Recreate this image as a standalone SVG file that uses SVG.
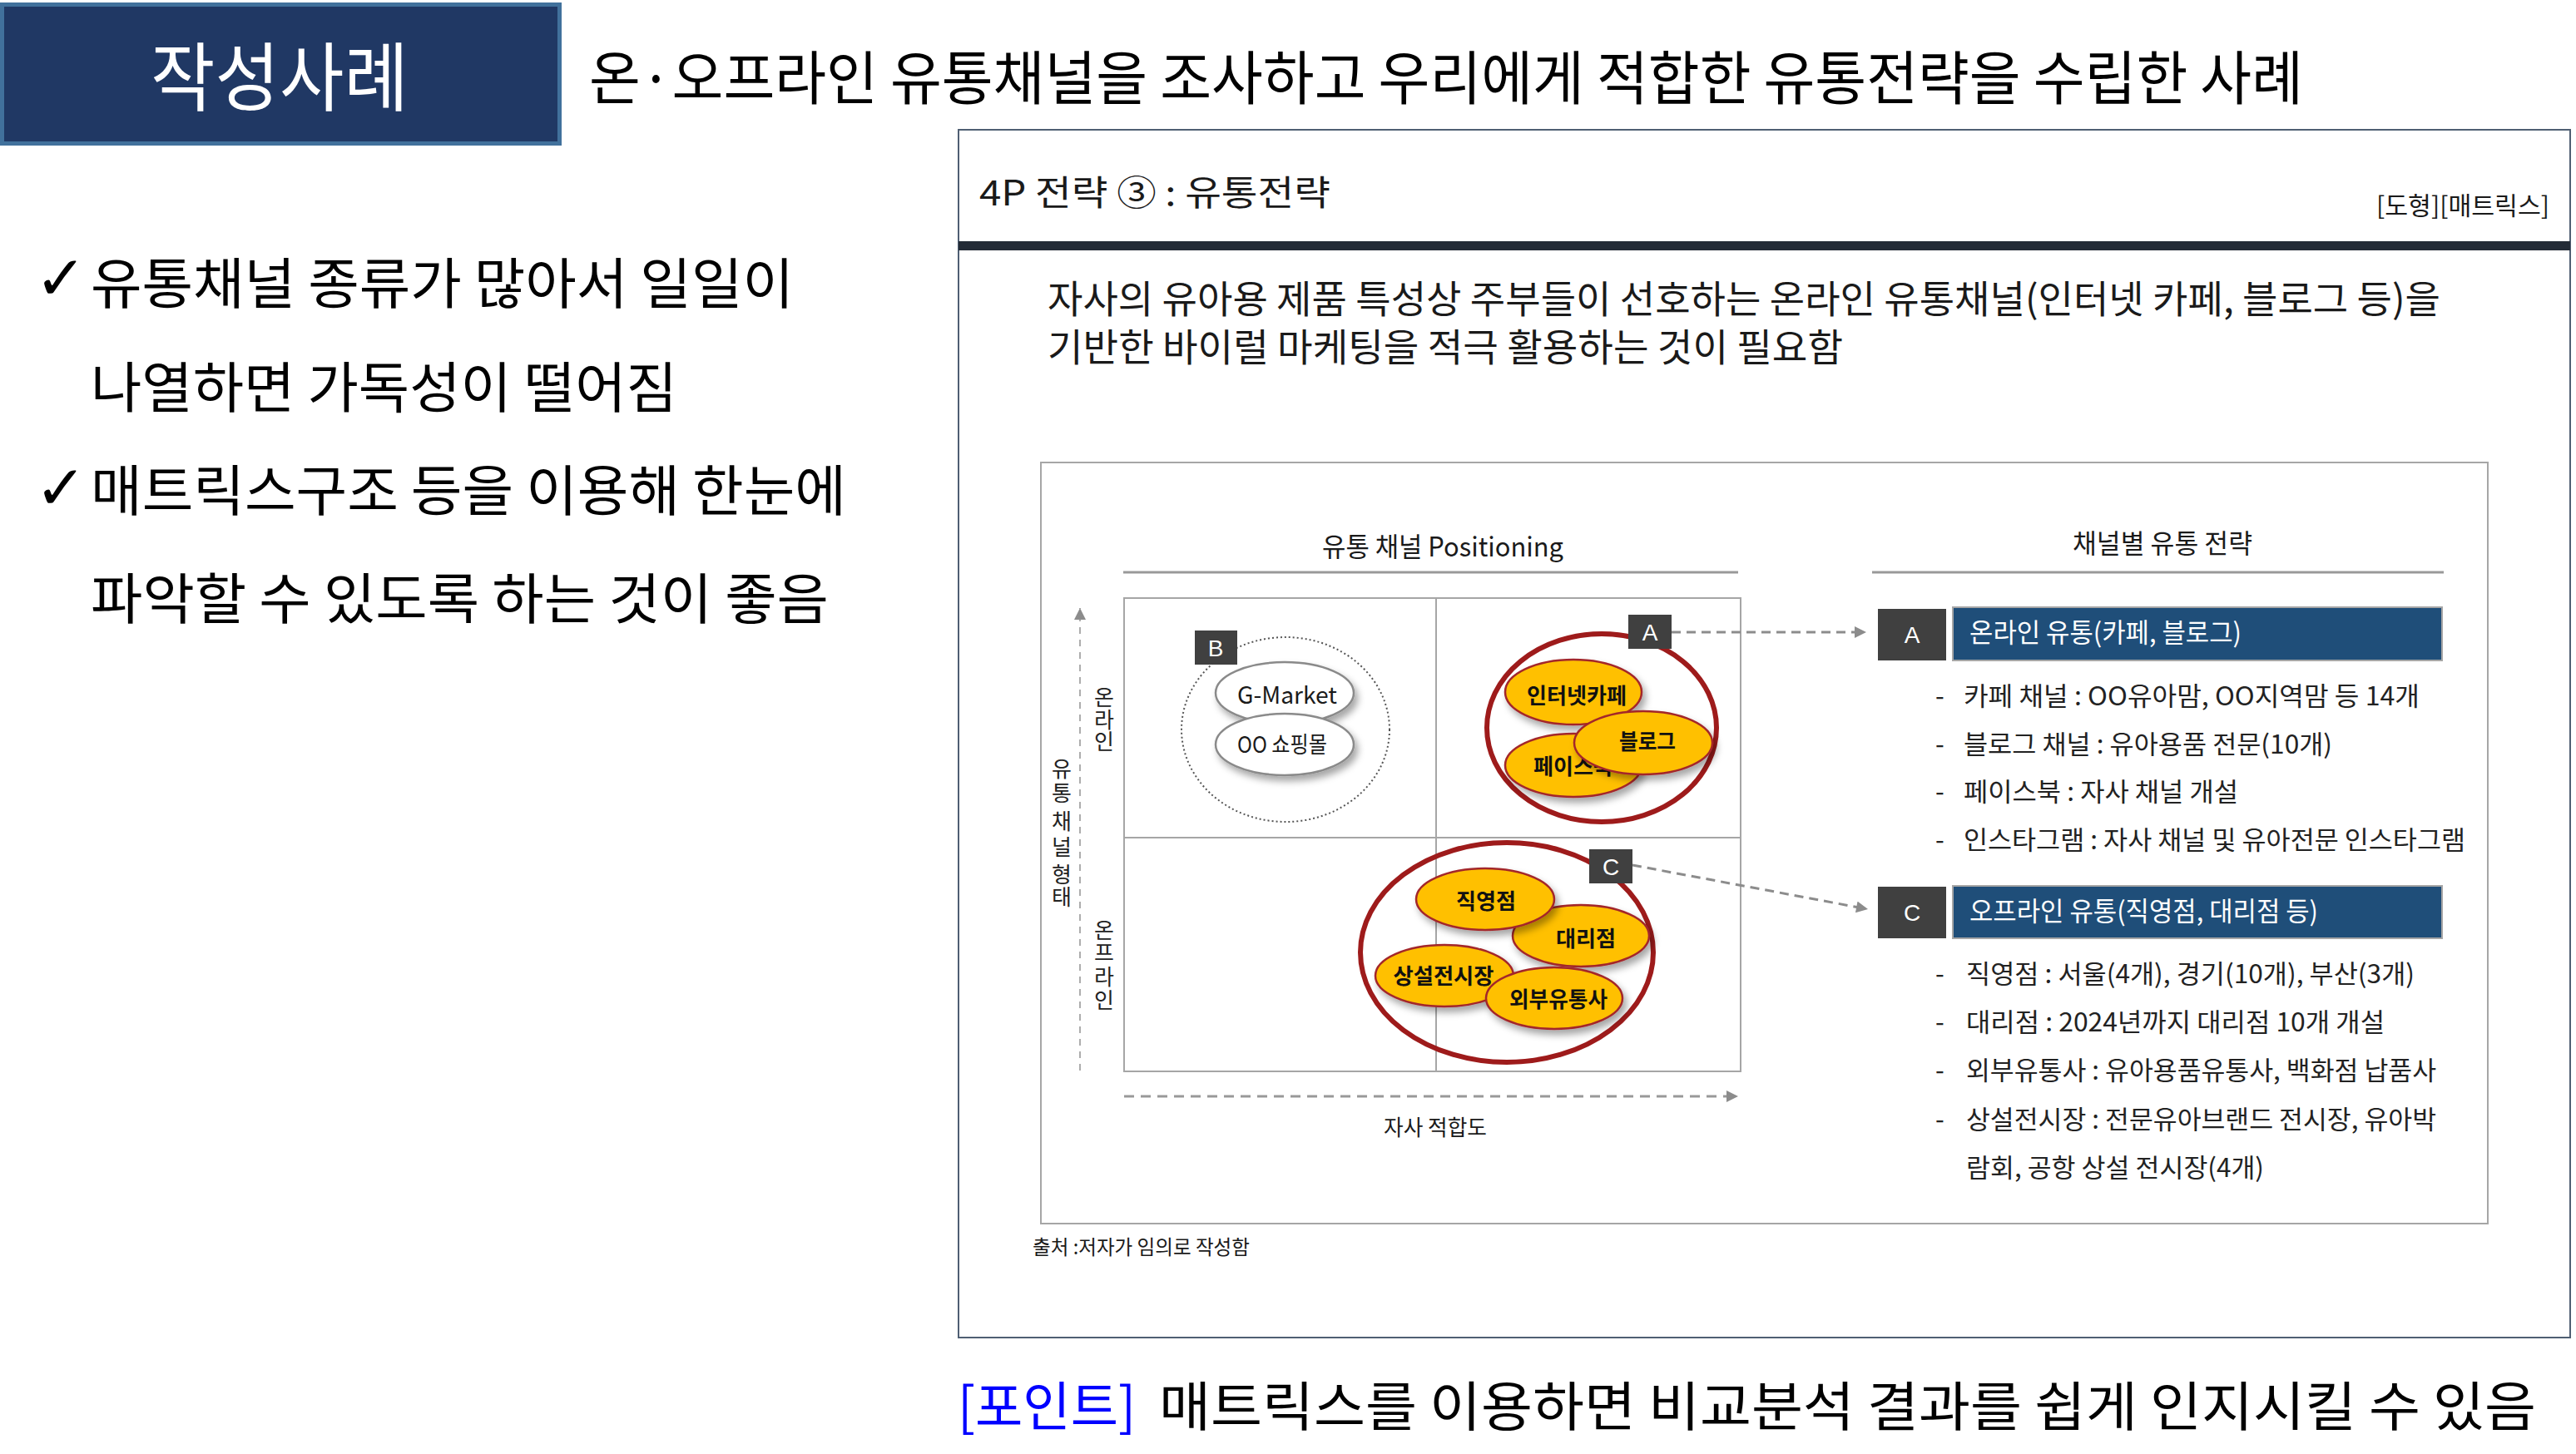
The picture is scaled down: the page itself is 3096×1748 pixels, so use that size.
<svg xmlns="http://www.w3.org/2000/svg" width="3096" height="1748" viewBox="0 0 3096 1748">
<defs>
<style>
text{font-family:"Noto Sans CJK KR","Noto Sans",sans-serif;fill:#1a1a1a}
.k{fill:#000}
.wt{fill:#fff}
.blue{fill:#0000ff}
.chk{font-family:"DejaVu Sans",sans-serif;font-size:74px;font-weight:700;fill:#000}
.lbl{font-family:"Liberation Sans","Noto Sans CJK KR",sans-serif;fill:#fff;font-size:28px;text-anchor:middle}
.bx{fill:#404040}
.bar{fill:#1f4e79;stroke:#a6a6a6;stroke-width:2}
.bul{font-size:31px;fill:#222}
.yel{fill:#ffc000;stroke:#a3282a;stroke-width:2.5;filter:url(#sh)}
.yt{font-size:26px;font-weight:700;text-anchor:middle;fill:#111}
.wel{fill:#fff;stroke:#8a8a8a;stroke-width:2.5;filter:url(#sh)}
.red{fill:none;stroke:#9e1b1b;stroke-width:6}
.grid{fill:none;stroke:#a6a6a6;stroke-width:2}
.conn{fill:none;stroke:#8c8c8c;stroke-width:3;stroke-dasharray:11 7}
.ax{font-size:26px;text-anchor:middle;fill:#222}
</style>
<filter id="sh" x="-20%" y="-25%" width="150%" height="170%">
<feDropShadow dx="4" dy="6" stdDeviation="4" flood-color="#000" flood-opacity="0.35"/>
</filter>
<marker id="arr" viewBox="0 0 10 10" refX="10" refY="5" markerUnits="userSpaceOnUse" markerWidth="15" markerHeight="14" orient="auto">
<path d="M0,0 L10,5 L0,10 z" fill="#8c8c8c"/>
</marker>
</defs>
<rect width="3096" height="1748" fill="#fff"/>

<g id="title-box">
<rect x="2.5" y="5.5" width="670" height="167" fill="#203864" stroke="#41719c" stroke-width="5"/>
<text x="181" y="126" font-size="90" class="wt" textLength="310" lengthAdjust="spacingAndGlyphs">작성사례</text>
</g>
<g id="headline">
<text x="708" y="120" font-size="70" class="k" textLength="2060" lengthAdjust="spacingAndGlyphs">온·오프라인 유통채널을 조사하고 우리에게 적합한 유통전략을 수립한 사례</text>
</g>

<g id="left-notes">
<text x="42" y="360" class="chk">✓</text>
<text x="109" y="365" font-size="66" class="k" textLength="845" lengthAdjust="spacingAndGlyphs">유통채널 종류가 많아서 일일이</text>
<text x="109" y="490" font-size="66" class="k" textLength="705" lengthAdjust="spacingAndGlyphs">나열하면 가독성이 떨어짐</text>
<text x="42" y="612" class="chk">✓</text>
<text x="109" y="614" font-size="66" class="k" textLength="908" lengthAdjust="spacingAndGlyphs">매트릭스구조 등을 이용해 한눈에</text>
<text x="109" y="744" font-size="66" class="k" textLength="887" lengthAdjust="spacingAndGlyphs">파악할 수 있도록 하는 것이 좋음</text>
</g>

<g id="panel">
<rect x="1152" y="156" width="1937" height="1452" fill="#fff" stroke="#4f5f73" stroke-width="2"/>
<rect x="1152" y="290" width="1937" height="11" fill="#232b36"/>
<text x="1177" y="247" font-size="42" textLength="422" lengthAdjust="spacingAndGlyphs">4P 전략 ③ : 유통전략</text>
<text x="2856" y="258" font-size="30" textLength="208" lengthAdjust="spacingAndGlyphs">[도형][매트릭스]</text>
<text x="1259" y="376" font-size="46" textLength="1674" lengthAdjust="spacingAndGlyphs">자사의 유아용 제품 특성상 주부들이 선호하는 온라인 유통채널(인터넷 카페, 블로그 등)을</text>
<text x="1259" y="434" font-size="46" textLength="956" lengthAdjust="spacingAndGlyphs">기반한 바이럴 마케팅을 적극 활용하는 것이 필요함</text>
<rect x="1251" y="556" width="1739" height="915" fill="none" stroke="#a6a6a6" stroke-width="2"/>
<text x="1241" y="1508" font-size="24" textLength="261" lengthAdjust="spacingAndGlyphs">출처 :저자가 임의로 작성함</text>
</g>

<g id="matrix">
<text x="1589" y="669" font-size="32" textLength="290" lengthAdjust="spacingAndGlyphs">유통 채널 Positioning</text>
<line x1="1350" y1="688" x2="2089" y2="688" stroke="#999" stroke-width="3"/>
<rect class="grid" x="1351" y="719" width="741" height="569"/>
<line class="grid" x1="1726" y1="719" x2="1726" y2="1288"/>
<line class="grid" x1="1351" y1="1007" x2="2092" y2="1007"/>
<text class="ax" x="1327 1327 1327" y="848 875 901">온라인</text>
<text class="ax" x="1327 1327 1327 1327" y="1128 1155 1184 1212">온프라인</text>
<text class="ax" x="1276 1276 1276 1276 1276 1276 1276 1276" y="934 963 963 997 1028 1028 1061 1088">유통 채널 형태</text>
<text x="1663" y="1365" font-size="26" textLength="124" lengthAdjust="spacingAndGlyphs">자사 적합도</text>
</g>

<g id="axes">
<line x1="1298" y1="1287" x2="1298" y2="731" stroke="#999" stroke-width="1.6" stroke-dasharray="8 7" marker-end="url(#arr)"/>
<line x1="1351" y1="1318" x2="2089" y2="1318" stroke="#999" stroke-width="3" stroke-dasharray="12 8" marker-end="url(#arr)"/>
</g>

<g id="node-B">
<ellipse cx="1545" cy="877" rx="125" ry="111" fill="none" stroke="#555" stroke-width="2" stroke-dasharray="2 3"/>
<ellipse class="wel" cx="1544" cy="833" rx="83" ry="37"/>
<text x="1547" y="846" font-size="28" text-anchor="middle" textLength="120" lengthAdjust="spacingAndGlyphs">G-Market</text>
<ellipse class="wel" cx="1544" cy="895" rx="83" ry="37"/>
<text x="1541" y="905" font-size="27" text-anchor="middle" textLength="108" lengthAdjust="spacingAndGlyphs">OO 쇼핑몰</text>
<rect class="bx" x="1436" y="758" width="51" height="41"/>
<text class="lbl" x="1461" y="789">B</text>
</g>

<g id="node-A">
<ellipse class="red" cx="1925" cy="875" rx="138" ry="113"/>
<ellipse class="yel" cx="1891" cy="832" rx="82" ry="39"/>
<text class="yt" x="1895" y="846" textLength="120" lengthAdjust="spacingAndGlyphs">인터넷카페</text>
<ellipse class="yel" cx="1891" cy="920" rx="82" ry="38"/>
<text class="yt" x="1891" y="931" textLength="96" lengthAdjust="spacingAndGlyphs">페이스북</text>
<ellipse class="yel" cx="1975" cy="893" rx="83" ry="38"/>
<text class="yt" x="1980" y="901" textLength="68" lengthAdjust="spacingAndGlyphs">블로그</text>
<rect class="bx" x="1957" y="739" width="52" height="41"/>
<text class="lbl" x="1983" y="770">A</text>
</g>

<g id="node-C">
<ellipse class="red" cx="1811" cy="1145" rx="176" ry="132"/>
<ellipse class="yel" cx="1900" cy="1125" rx="82" ry="37"/>
<text class="yt" x="1906" y="1138" textLength="72" lengthAdjust="spacingAndGlyphs">대리점</text>
<ellipse class="yel" cx="1785" cy="1081" rx="83" ry="37"/>
<text class="yt" x="1786" y="1093" textLength="72" lengthAdjust="spacingAndGlyphs">직영점</text>
<ellipse class="yel" cx="1736" cy="1173" rx="83" ry="37"/>
<text class="yt" x="1735" y="1183" textLength="121" lengthAdjust="spacingAndGlyphs">상설전시장</text>
<ellipse class="yel" cx="1868" cy="1200" rx="82" ry="37"/>
<text class="yt" x="1873" y="1211" textLength="118" lengthAdjust="spacingAndGlyphs">외부유통사</text>
<rect class="bx" x="1910" y="1021" width="52" height="41"/>
<text class="lbl" x="1936" y="1052">C</text>
</g>

<g id="strategy-header">
<text x="2491" y="665" font-size="32" textLength="216" lengthAdjust="spacingAndGlyphs">채널별 유통 전략</text>
<line x1="2250" y1="688" x2="2937" y2="688" stroke="#999" stroke-width="3"/>
</g>

<g id="strategy-A">
<rect class="bx" x="2257" y="732" width="82" height="62"/>
<text class="lbl" x="2298" y="773">A</text>
<rect class="bar" x="2347" y="730" width="588" height="64"/>
<text x="2367" y="772" font-size="32" class="wt" textLength="327" lengthAdjust="spacingAndGlyphs">온라인 유통(카페, 블로그)</text>
<text class="bul" y="848"><tspan x="2326">-</tspan><tspan x="2360" textLength="548" lengthAdjust="spacingAndGlyphs">카페 채널 : OO유아맘, OO지역맘 등 14개</tspan></text>
<text class="bul" y="906"><tspan x="2326">-</tspan><tspan x="2360" textLength="443" lengthAdjust="spacingAndGlyphs">블로그 채널 : 유아용품 전문(10개)</tspan></text>
<text class="bul" y="963"><tspan x="2326">-</tspan><tspan x="2360" textLength="330" lengthAdjust="spacingAndGlyphs">페이스북 : 자사 채널 개설</tspan></text>
<text class="bul" y="1021"><tspan x="2326">-</tspan><tspan x="2360" textLength="603" lengthAdjust="spacingAndGlyphs">인스타그램 : 자사 채널 및 유아전문 인스타그램</tspan></text>
</g>

<g id="strategy-C">
<rect class="bx" x="2257" y="1066" width="82" height="62"/>
<text class="lbl" x="2298" y="1107">C</text>
<rect class="bar" x="2347" y="1065" width="588" height="63"/>
<text x="2367" y="1107" font-size="32" class="wt" textLength="419" lengthAdjust="spacingAndGlyphs">오프라인 유통(직영점, 대리점 등)</text>
<text class="bul" y="1182"><tspan x="2326">-</tspan><tspan x="2363" textLength="539" lengthAdjust="spacingAndGlyphs">직영점 : 서울(4개), 경기(10개), 부산(3개)</tspan></text>
<text class="bul" y="1240"><tspan x="2326">-</tspan><tspan x="2363" textLength="503" lengthAdjust="spacingAndGlyphs">대리점 : 2024년까지 대리점 10개 개설</tspan></text>
<text class="bul" y="1298"><tspan x="2326">-</tspan><tspan x="2363" textLength="565" lengthAdjust="spacingAndGlyphs">외부유통사 : 유아용품유통사, 백화점 납품사</tspan></text>
<text class="bul" y="1357"><tspan x="2326">-</tspan><tspan x="2363" textLength="565" lengthAdjust="spacingAndGlyphs">상설전시장 : 전문유아브랜드 전시장, 유아박</tspan></text>
<text class="bul" x="2363" y="1415" textLength="358" lengthAdjust="spacingAndGlyphs">람회, 공항 상설 전시장(4개)</text>
</g>

<g id="connectors">
<line class="conn" x1="2009" y1="760" x2="2243" y2="760" marker-end="url(#arr)"/>
<line class="conn" x1="1962" y1="1040" x2="2245" y2="1093" marker-end="url(#arr)"/>
</g>

<g id="point">
<text x="1151" y="1714" font-size="64" class="blue" textLength="214" lengthAdjust="spacingAndGlyphs">[포인트]</text>
<text x="1393" y="1714" font-size="64" class="k" textLength="1655" lengthAdjust="spacingAndGlyphs">매트릭스를 이용하면 비교분석 결과를 쉽게 인지시킬 수 있음</text>
</g>
</svg>
